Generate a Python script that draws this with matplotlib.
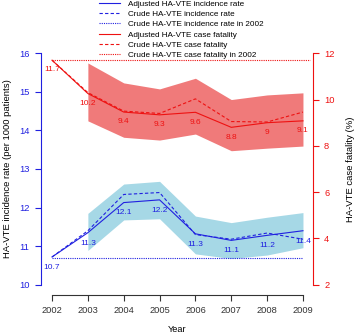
import matplotlib
matplotlib.use("Agg")
import matplotlib.pyplot as plt

plt.rcParams['font.family'] = ['Liberation Sans', 'DejaVu Sans']

years = [2002, 2003, 2004, 2005, 2006, 2007, 2008, 2009]

# Incidence rate (per 1000 patients), left axis
inc_adj = [10.72, 11.35, 12.13, 12.2, 11.32, 11.15, 11.28, 11.4]
inc_crude = [10.72, 11.4, 12.34, 12.39, 11.3, 11.18, 11.34, 11.18]
inc_lo = [None, 10.89, 11.68, 11.71, 10.8, 10.68, 10.77, 10.96]
inc_hi = [None, 11.85, 12.61, 12.68, 11.78, 11.61, 11.75, 11.87]
inc_2002 = 10.7
inc_labels = ["10.7", "11.3", "12.1", "12.2", "11.3", "11.1", "11.2", "11.4"]

# Case fatality (%), right axis
cf_adj = [11.7, 10.26, 9.46, 9.34, 9.45, 8.8, 9.0, 9.08]
cf_crude = [11.7, 10.3, 9.5, 9.4, 10.03, 9.05, 9.03, 9.46]
cf_lo = [None, 9.08, 8.37, 8.25, 8.51, 7.79, 7.9, 7.99]
cf_hi = [None, 11.58, 10.72, 10.46, 10.92, 10.0, 10.2, 10.29]
cf_2002 = 11.7
cf_labels = ["11.7", "10.2", "9.4", "9.3", "9.6", "8.8", "9", "9.1"]

blue = "#2020e0"
red = "#ee1111"

fig = plt.figure(figsize=(3.58, 3.36), dpi=100)
ax = fig.add_axes([42/358, 1-294/336, (313-42)/358, (294-44)/336])
ax2 = ax.twinx()

ax.set_xlim(2002-0.28, 2009+0.28)
ax.set_ylim(10-0.24, 16+0.24)
ax2.set_ylim(2-0.4, 12+0.4)

# bands
ax2.fill_between(years[1:], cf_lo[1:], cf_hi[1:], color="#f07a7a", lw=0, zorder=1)
ax.fill_between(years[1:], inc_lo[1:], inc_hi[1:], color="#a6d8e6", lw=0, zorder=1)

# incidence lines
l1, = ax.plot(years, inc_adj, color=blue, lw=0.8, ls='-', zorder=3)
l2, = ax.plot(years, inc_crude, color=blue, lw=0.8, ls=(0, (3, 2)), zorder=3)
l3, = ax.plot([years[0], years[-1]], [inc_2002, inc_2002], color=blue, lw=0.8, ls=(0, (1, 1)), zorder=3)

l4, = ax2.plot(years, cf_adj, color=red, lw=0.8, ls='-', zorder=3)
l5, = ax2.plot(years, cf_crude, color=red, lw=0.8, ls=(0, (3, 2)), zorder=3)
l6, = ax2.plot([years[0], years[-1]+0.2], [cf_2002, cf_2002], color=red, lw=0.8, ls=(0, (1, 1)), zorder=3)

for x, y, s in zip(years, inc_adj, inc_labels):
    ax.annotate(s, (x, y), xytext=(0, -7.5), textcoords='offset points',
                ha='center', va='center', fontsize=6, color=blue, zorder=4)
for x, y, s in zip(years, cf_adj, cf_labels):
    ax2.annotate(s, (x, y), xytext=(0, -7), textcoords='offset points',
                 ha='center', va='center', fontsize=6, color=red, zorder=4)

# axes styling (R-like detached axes)
ax.patch.set_visible(False)
for a in (ax, ax2):
    a.spines['top'].set_visible(False)
ax.spines['right'].set_visible(False)
ax2.spines['left'].set_visible(False)
ax2.spines['bottom'].set_visible(False)

ax.spines['left'].set_bounds(10, 16)
ax.spines['left'].set_color(blue)
ax.spines['bottom'].set_bounds(2002, 2009)
ax.spines['bottom'].set_color("#333333")
ax2.spines['right'].set_bounds(2, 12)
ax2.spines['right'].set_color(red)
ax.spines['left'].set_position(('outward', 1))
ax.spines['bottom'].set_position(('outward', 1))

ax.set_xticks(years)
ax.set_yticks([10, 11, 12, 13, 14, 15, 16])
ax2.set_yticks([2, 4, 6, 8, 10, 12])
ax.tick_params(axis='x', direction='out', length=4, width=0.8, pad=3.5, labelsize=6.7, colors="#333333")
ax.tick_params(axis='y', direction='out', length=4, width=0.8, pad=4, labelsize=6.7, colors=blue)
ax2.tick_params(axis='y', direction='out', length=4, width=0.8, pad=4, labelsize=6.7, colors=red)

ax.set_xlabel("Year", fontsize=6.7, labelpad=7)
ax.set_ylabel("HA-VTE incidence rate (per 1000 patients)", fontsize=6.8, labelpad=5)
ax2.set_ylabel("HA-VTE case fatality (%)", fontsize=6.8, rotation=90, labelpad=8)

handles = [l1, l2, l3, l4, l5, l6]
labels = ["Adjusted HA-VTE incidence rate", "Crude HA-VTE incidence rate",
          "Crude HA-VTE incidence rate in 2002", "Adjusted HA-VTE case fatality",
          "Crude HA-VTE case fatality", "Crude HA-VTE case fatality in 2002"]
fig.legend(handles, labels, loc='upper left', bbox_to_anchor=(98/358, 1.0+1/336),
           frameon=False, fontsize=5.9, handlelength=2.6, handletextpad=0.9,
           labelspacing=0.32, borderpad=0.1, borderaxespad=0)

fig.savefig("out.png", dpi=100)
